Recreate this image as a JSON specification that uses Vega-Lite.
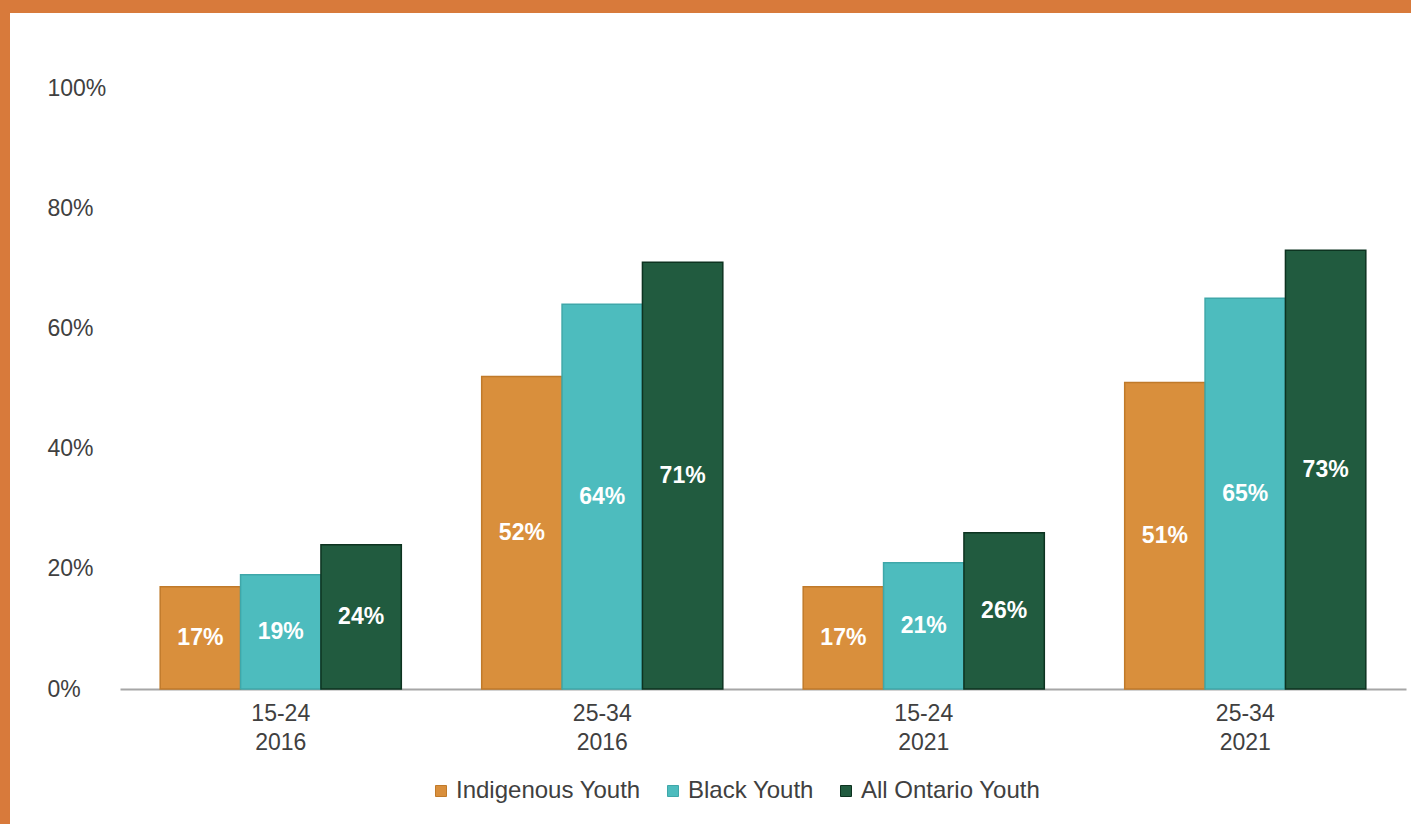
{
  "$schema": "https://vega.github.io/schema/vega-lite/v6.json",
  "padding": 0,
  "background": "white",
  "config": {
    "font": "Liberation Sans",
    "view": {"stroke": null},
    "axis": {"labelFont": "Liberation Sans", "labelColor": "#404040", "labelFontSize": 23, "grid": false, "ticks": false, "title": null},
    "legend": {"labelFont": "Liberation Sans", "labelColor": "#404040", "labelFontSize": 24}
  },
  "vconcat": [
    {
      "width": 1411,
      "height": 13,
      "view": {"fill": "#D87A3B", "stroke": null},
      "data": {"values": [{}]},
      "mark": {"type": "rect", "color": "#D87A3B"},
      "encoding": {}
    },
    {
      "hconcat": [
        {
          "width": 10,
          "height": 811,
          "view": {"fill": "#D87A3B", "stroke": null},
          "data": {"values": [{}]},
          "mark": {"type": "rect", "color": "#D87A3B"},
          "encoding": {}
        },
        {
          "vconcat": [
            {
              "width": 1286,
              "height": 1,
              "data": {"values": [{}]},
              "mark": {"type": "rect", "opacity": 0},
              "encoding": {}
            },
            {
              "width": 1286,
              "height": 601,
              "data": {
                "values": [
                  {"group": "15-24|2016", "series": "Indigenous Youth", "value": 0.17},
                  {"group": "15-24|2016", "series": "Black Youth", "value": 0.19},
                  {"group": "15-24|2016", "series": "All Ontario Youth", "value": 0.24},
                  {"group": "25-34|2016", "series": "Indigenous Youth", "value": 0.52},
                  {"group": "25-34|2016", "series": "Black Youth", "value": 0.64},
                  {"group": "25-34|2016", "series": "All Ontario Youth", "value": 0.71},
                  {"group": "15-24|2021", "series": "Indigenous Youth", "value": 0.17},
                  {"group": "15-24|2021", "series": "Black Youth", "value": 0.21},
                  {"group": "15-24|2021", "series": "All Ontario Youth", "value": 0.26},
                  {"group": "25-34|2021", "series": "Indigenous Youth", "value": 0.51},
                  {"group": "25-34|2021", "series": "Black Youth", "value": 0.65},
                  {"group": "25-34|2021", "series": "All Ontario Youth", "value": 0.73}
                ]
              },
              "encoding": {
                "x": {
                  "field": "group", "type": "nominal", "sort": null,
                  "scale": {"paddingInner": 0.25, "paddingOuter": 0.125},
                  "axis": {"labelAngle": 0, "labelExpr": "split(datum.label, '|')", "labelLineHeight": 29, "labelPadding": 13, "domainColor": "#a6a6a6", "domainWidth": 2, "labelBaseline": "top"}
                },
                "xOffset": {"field": "series", "type": "nominal", "sort": ["Indigenous Youth", "Black Youth", "All Ontario Youth"], "scale": {"paddingInner": 0, "paddingOuter": 0}}
              },
              "layer": [
                {
                  "mark": {"type": "bar", "strokeWidth": 1.5},
                  "encoding": {
                    "y": {
                      "field": "value", "type": "quantitative",
                      "scale": {"domain": [0, 1], "nice": false},
                      "axis": {"format": ".0%", "values": [0, 0.2, 0.4, 0.6, 0.8, 1], "domain": false, "labelAlign": "left", "labelPadding": 73}
                    },
                    "color": {
                      "field": "series", "type": "nominal",
                      "sort": ["Indigenous Youth", "Black Youth", "All Ontario Youth"],
                      "scale": {"domain": ["Indigenous Youth", "Black Youth", "All Ontario Youth"], "range": ["#D98F3C", "#4DBCBE", "#215B3F"]},
                      "legend": {"orient": "none", "legendX": 309, "legendY": 691, "title": null, "direction": "horizontal", "symbolType": "square", "symbolSize": 121, "symbolStrokeWidth": 1, "symbolStrokeColor": "#555555", "labelOffset": 3, "columnPadding": 20, "labelLimit": 0}
                    },
                    "stroke": {
                      "field": "series", "type": "nominal",
                      "scale": {"domain": ["Indigenous Youth", "Black Youth", "All Ontario Youth"], "range": ["#C07A2A", "#3FA7A9", "#0D3320"]},
                      "legend": null
                    }
                  }
                },
                {
                  "mark": {"type": "text", "color": "white", "fontWeight": "bold", "fontSize": 23, "baseline": "middle", "align": "center"},
                  "encoding": {
                    "y": {"field": "value", "type": "quantitative", "scale": {"domain": [0, 2], "nice": false}, "axis": null},
                    "text": {"field": "value", "type": "quantitative", "format": ".0%"}
                  }
                }
              ],
              "resolve": {"scale": {"y": "independent"}}
            }
          ],
          "spacing": 74,
          "bounds": "flush",
          "resolve": {"legend": {"color": "independent", "stroke": "independent"}}
        }
      ],
      "spacing": 110,
      "bounds": "flush",
      "resolve": {"legend": {"color": "independent", "stroke": "independent"}}
    }
  ],
  "spacing": 0,
  "bounds": "flush",
  "resolve": {"legend": {"color": "independent", "stroke": "independent"}}
}
